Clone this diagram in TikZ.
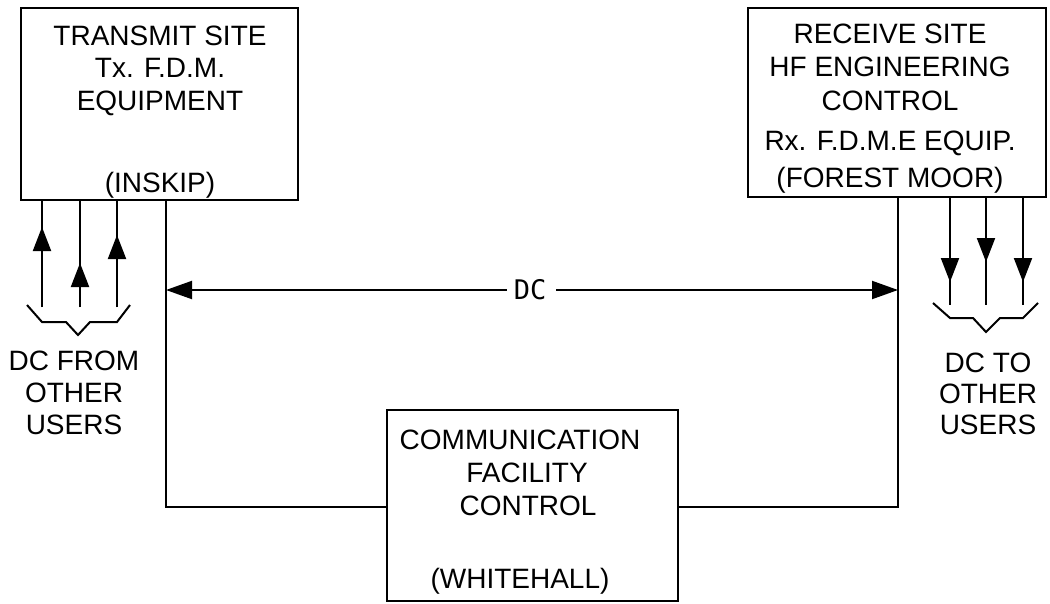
\documentclass[tikz,border=0pt]{standalone}
\usepackage{fontspec}
\setmainfont{Liberation Sans}
\newfontfamily\dcfont{DejaVu Sans Mono}
\usetikzlibrary{arrows.meta,calc}
\begin{document}
\begin{tikzpicture}[x=1pt,y=-1pt,line width=2pt,
  box/.style={draw,line width=2pt,inner sep=0,minimum width=#1},
  lbl/.style={font=\fontsize{28}{33}\selectfont,inner sep=0,anchor=base},
  dcl/.style={font=\dcfont\fontsize{27}{30}\selectfont,inner sep=0},
  tip/.style={-{Triangle[length=24pt,width=18pt]}},
  tips/.style={{Triangle[length=26pt,width=18pt]}-{Triangle[length=26pt,width=18pt]}}]
\useasboundingbox (0,0) rectangle (1050,603);
% boxes
\node[box=277pt,minimum height=192pt] (tx) at (159.5,104) {};
\node[box=298pt,minimum height=189pt] (rx) at (897,102.5) {};
\node[box=291pt,minimum height=191pt] (cf) at (532.5,505.5) {};
% box texts
\node[lbl] (t1) at (160,45) {TRANSMIT SITE};
\node[lbl] (t2) at (160,77) {Tx. F.D.M.};
\node[lbl] (t3) at (160,110) {EQUIPMENT};
\node[lbl] (t4) at (160,192) {(INSKIP)};
\node[lbl] (r1) at (890,43) {RECEIVE SITE};
\node[lbl] (r2) at (890,76) {HF ENGINEERING};
\node[lbl] (r3) at (890,110) {CONTROL};
\node[lbl] (r4) at (890,150) {Rx. F.D.M.E EQUIP.};
\node[lbl] (r5) at (890,187) {(FOREST MOOR)};
\node[lbl] (c1) at (520,449) {COMMUNICATION};
\node[lbl] (c2) at (527,482) {FACILITY};
\node[lbl] (c3) at (528,515) {CONTROL};
\node[lbl] (c4) at (520,588) {(WHITEHALL)};
% side labels
\node[lbl] (l1) at (74,370) {DC FROM};
\node[lbl] (l2) at (74,402) {OTHER};
\node[lbl] (l3) at (74,434) {USERS};
\node[lbl] (s1) at (988,372) {DC TO};
\node[lbl] (s2) at (988,403) {OTHER};
\node[lbl] (s3) at (988,434) {USERS};
% link lines
\coordinate (tb) at (166,200);
\coordinate (tc) at (166,507);
\coordinate (rb) at (898,197);
\coordinate (rc) at (898,507);
\draw (tb) -- (tc) -- (tc -| cf.west);
\draw (rb) -- (rc) -- (rc -| cf.east);
% DC arrow
\coordinate (dl) at (166,290);
\coordinate (dr) at (898,290);
\draw[tips] (dl) -- (dr);
\fill[white] (507,280) rectangle (556,300);
\node[dcl] (dc) at (530,290) {DC};
% incoming arrows (left)
\foreach \x/\t/\n in {42/227/a,80/263/b,117/235/c}{
  \coordinate (in\n) at (\x,307);
  \coordinate (it\n) at (\x,\t);
  \draw (in\n) -- (\x,200);
  \draw[tip] (in\n) -- (it\n);
}
% outgoing arrows (right)
\foreach \x/\t/\n in {950/282/a,986/262/b,1023/282/c}{
  \coordinate (on\n) at (\x,197);
  \coordinate (ot\n) at (\x,\t);
  \draw (on\n) -- (\x,305);
  \draw[tip] (on\n) -- (ot\n);
}
% brackets
\draw[line join=miter] (27,305) -- (42,322) -- (66,322) -- (78,335) -- (90,322) -- (117,322) -- (130,305);
\draw[line join=miter] (933,303) -- (950,318) -- (973,318) -- (986,332) -- (1000,318) -- (1023,318) -- (1038,303);
\end{tikzpicture}
\end{document}
